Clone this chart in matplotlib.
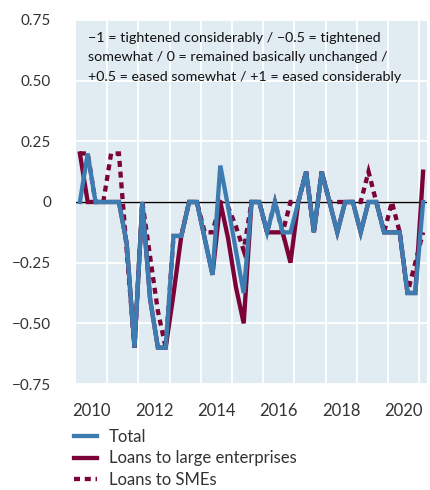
import matplotlib.pyplot as plt
import numpy as np

# quarterly observations, 2010 Q1 .. 2021 Q1
start_year = 2010
total = [0, 0.2, 0, 0, 0, 0, -0.17, -0.6, 0, -0.4, -0.6, -0.6,
         -0.14, -0.14, 0, 0, -0.15, -0.3, 0.15, -0.02, -0.2, -0.375,
         0, 0, -0.125, 0, -0.125, -0.125, 0, 0.125, -0.125, 0.125,
         0, -0.125, 0, 0, -0.125, 0, 0, -0.125, -0.125, -0.125,
         -0.375, -0.375, 0]
large = [0.2, 0, 0, 0, 0, 0, -0.17, -0.6, 0, -0.4, -0.6, -0.6,
         -0.38, -0.14, 0, 0, -0.15, -0.3, 0, -0.15, -0.35, -0.5,
         0, 0, -0.125, -0.125, -0.125, -0.25, 0, 0.125, -0.125, 0.125,
         0, -0.125, 0, 0, -0.125, 0, 0, -0.125, -0.125, -0.125,
         -0.375, -0.375, 0.125]
smes = [0.2, 0.2, 0, 0, 0.2, 0.2, -0.2, -0.6, 0, -0.225, -0.45, -0.6,
        -0.14, -0.14, 0, 0, -0.125, -0.125, 0, -0.02, -0.1, -0.2,
        0, 0, -0.125, 0, -0.125, 0, 0, 0.125, -0.125, 0.125,
        0, 0, 0, 0, 0, 0.125, 0, -0.125, 0, -0.125,
        -0.375, -0.25, -0.125]
year_labels = ["2010", "2012", "2014", "2016", "2018", "2020"]
y_ticks = [0.75, 0.5, 0.25, 0, -0.25, -0.5, -0.75]
y_labels = ["0.75", "0.50", "0.25", "0", "\u22120.25", "\u22120.50", "\u22120.75"]
note = ("\u22121 = tightened considerably / \u22120.5 = tightened\n"
        "somewhat / 0 = remained basically unchanged /\n"
        "+0.5 = eased somewhat / +1 = eased considerably")

blue = "#3d7cb1"
maroon = "#7b0337"
text_col = "#333333"

plt.rcParams['font.family'] = ['Lato', 'DejaVu Sans']

x = start_year + (np.arange(len(total)) + 0.5) / 4

fig = plt.figure(figsize=(4.3, 4.9), dpi=100)
ax = fig.add_axes([76 / 430, 1 - 384 / 490, 351 / 430, 364 / 490])
ax.set_facecolor("#e1ebf2")

ax.set_xlim(2010, 2021.25)
ax.set_ylim(-0.75, 0.75)
ax.set_xticks(np.arange(2011, 2022), minor=True)
ax.set_xticks([int(y) + 0.5 for y in year_labels])
ax.set_xticklabels(year_labels)
ax.set_yticks(y_ticks)
ax.set_yticklabels(y_labels)
ax.grid(True, which="minor", axis="x", color="white", lw=1.3)
ax.grid(True, which="major", axis="y", color="white", lw=1.3)
ax.set_axisbelow(True)
ax.tick_params(which="both", length=0, labelsize=11, colors=text_col)
ax.tick_params(axis="x", labelsize=12, pad=14)
ax.tick_params(axis="y", pad=18)
for s in ax.spines.values():
    s.set_visible(False)

ax.axhline(0, color="black", lw=1, zorder=1.5)

lw = 3.1
ax.plot(x, smes, color=maroon, lw=lw, dashes=(1.4, 1.1), label="Loans to SMEs",
        zorder=2, solid_joinstyle="miter", dash_joinstyle="miter")
ax.plot(x, large, color=maroon, lw=lw, label="Loans to large enterprises",
        zorder=3, solid_joinstyle="miter")
ax.plot(x, total, color=blue, lw=lw, label="Total", zorder=4,
        solid_joinstyle="miter")

ax.text(0.035, 0.968, note, transform=ax.transAxes, va="top", ha="left",
        fontsize=10.3, color="#111111", linespacing=1.75)

handles, labels = ax.get_legend_handles_labels()
order = [2, 1, 0]
fig.legend([handles[i] for i in order], [labels[i] for i in order],
           loc="upper left", bbox_to_anchor=(74 / 430, 1 - 429 / 490),
           frameon=False, fontsize=12, handlelength=1.35, handletextpad=0.75,
           labelspacing=0.33, labelcolor=text_col, borderaxespad=0, borderpad=0)

fig.savefig("out.png", dpi=100)
